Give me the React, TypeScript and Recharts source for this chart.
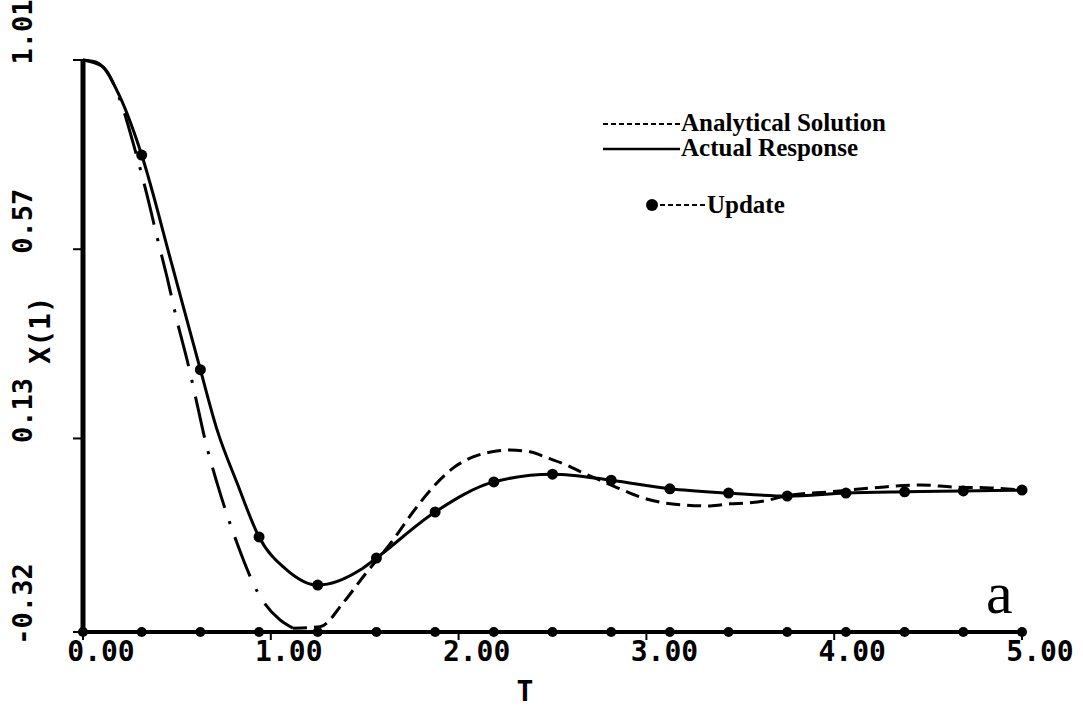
import React from "react";
import { ComposedChart, Line, XAxis, YAxis, Customized } from "recharts";

// time axis T and tick labels
const xTicks = [0, 1, 2, 3, 4, 5];
const yTicks = [-0.32, 0.13, 0.57, 1.01];

const responseT = [0, 0.07, 0.106, 0.197, 0.3125, 0.47, 0.625, 0.714, 0.82, 0.9375, 1.086, 1.25, 1.475, 1.5625, 1.875, 2.1875, 2.5, 2.8125, 3.125, 3.4375, 3.75, 4.0625, 4.375, 4.6875, 5.0];
const responseX = [1.01, 1.005, 0.994, 0.924, 0.789, 0.54, 0.29, 0.15, 0.027, -0.099, -0.176, -0.211, -0.176, -0.148, -0.041, 0.029, 0.047, 0.033, 0.013, 0.003, -0.004, 0.003, 0.006, 0.008, 0.01];

// analytical solution, first dip (dash-dot) and the rest (short dashes)
const dipT = [0, 0.106, 0.197, 0.277, 0.341, 0.394, 0.447, 0.506, 0.554, 0.612, 0.65, 0.714, 0.82, 0.932, 1.049, 1.118];
const dipX = [1.01, 0.994, 0.917, 0.801, 0.696, 0.599, 0.506, 0.394, 0.313, 0.201, 0.127, 0.026, -0.113, -0.229, -0.292, -0.311];
const reboundT = [1.118, 1.262, 1.384, 1.491, 1.651, 1.757, 1.864, 1.97, 2.077, 2.178, 2.274, 2.38, 2.471, 2.577, 2.662, 2.753, 2.859, 2.966, 3.072, 3.216, 3.339, 3.445, 3.536, 3.632, 3.738, 3.978, 4.207, 4.457, 4.633, 4.83, 5.0];
const reboundX = [-0.311, -0.308, -0.253, -0.192, -0.106, -0.041, 0.017, 0.061, 0.087, 0.099, 0.103, 0.099, 0.085, 0.068, 0.05, 0.033, 0.013, -0.006, -0.018, -0.025, -0.027, -0.022, -0.02, -0.015, -0.004, 0.006, 0.015, 0.022, 0.017, 0.015, 0.01];

// update instants: markers on the response and on the base line
const updateT = [0.3125, 0.625, 0.9375, 1.25, 1.5625, 1.875, 2.1875, 2.5, 2.8125, 3.125, 3.4375, 3.75, 4.0625, 4.375, 4.6875, 5.0];
const updateX = [0.789, 0.29, -0.099, -0.211, -0.148, -0.041, 0.029, 0.047, 0.033, 0.013, 0.003, -0.004, 0.003, 0.006, 0.008, 0.01];
const baseT = [0, 0.3125, 0.625, 0.9375, 1.25, 1.5625, 1.875, 2.1875, 2.5, 2.8125, 3.125, 3.4375, 3.75, 4.0625, 4.375, 4.6875, 5.0];
const baseX = [-0.32, -0.32, -0.32, -0.32, -0.32, -0.32, -0.32, -0.32, -0.32, -0.32, -0.32, -0.32, -0.32, -0.32, -0.32, -0.32, -0.32];

const zip = (t: number[], v: number[]) => t.map((x, i) => ({ t: x, v: v[i] }));

const response = zip(responseT, responseX);
const dip = zip(dipT, dipX);
const rebound = zip(reboundT, reboundX);
const updates = zip(updateT, updateX);
const base = zip(baseT, baseX);

const tickFont = "'DejaVu Sans Mono', monospace";
const serif = "'Liberation Serif', 'Times New Roman', serif";

const blackDot = (r: number) => (p: any) => (
  <circle key={`dot-${p.index}`} cx={p.cx} cy={p.cy} r={r} fill="#000" stroke="none" />
);

const XTick = ({ x, y, payload }: any) => (
  <text x={x + 18} y={y + 19} textAnchor="middle" fontFamily={tickFont} fontWeight="bold" fontSize={28} fill="#000">
    {payload.value.toFixed(2)}
  </text>
);

const YTick = ({ y, payload }: any) => (
  <text
    transform={`translate(22, ${y - 28}) rotate(-90)`}
    textAnchor="middle"
    dominantBaseline="central"
    fontFamily={tickFont}
    fontWeight="bold"
    fontSize={27}
    fill="#000"
  >
    {payload.value.toFixed(2)}
  </text>
);

const Overlay = () => (
  <g>
    <text transform="translate(40, 330) rotate(-90)" textAnchor="middle" dominantBaseline="central" fontFamily={tickFont} fontWeight="bold" fontSize={28}>
      X(1)
    </text>
    <text x={525} y={701} textAnchor="middle" fontFamily={tickFont} fontWeight="bold" fontSize={28}>
      T
    </text>
    <text x={986} y={613} fontFamily={serif} fontSize={60}>
      a
    </text>

    <line x1={603} y1={124} x2={680} y2={124} stroke="#000" strokeWidth={2} strokeDasharray="5 3" />
    <text x={681} y={131} fontFamily={serif} fontWeight="bold" fontSize={25}>
      Analytical Solution
    </text>
    <line x1={603} y1={149} x2={680} y2={149} stroke="#000" strokeWidth={2.5} />
    <text x={681} y={156} fontFamily={serif} fontWeight="bold" fontSize={25}>
      Actual Response
    </text>
    <circle cx={652} cy={205} r={6} fill="#000" />
    <line x1={660} y1={205} x2={705} y2={205} stroke="#000" strokeWidth={2} strokeDasharray="5 3" />
    <text x={707} y={213} fontFamily={serif} fontWeight="bold" fontSize={25}>
      Update
    </text>
  </g>
);

export default function App() {
  return (
    <div style={{ position: "absolute", left: 0, top: 0, background: "#fff" }}>
      <ComposedChart width={1083} height={707} margin={{ top: 60, right: 61, bottom: 0, left: 0 }}>
        <XAxis
          type="number"
          dataKey="t"
          domain={[0, 5]}
          ticks={xTicks}
          height={75}
          axisLine={{ stroke: "#000", strokeWidth: 4 }}
          tickLine={{ stroke: "#000", strokeWidth: 2 }}
          tickSize={8}
          tick={<XTick />}
        />
        <YAxis
          type="number"
          dataKey="v"
          domain={[-0.32, 1.01]}
          ticks={yTicks}
          width={83}
          axisLine={{ stroke: "#000", strokeWidth: 5 }}
          tickLine={{ stroke: "#000", strokeWidth: 2 }}
          tickSize={10}
          tick={<YTick />}
        />
        <Line data={base} dataKey="v" type="linear" stroke="#000" strokeWidth={3} dot={blackDot(5)} isAnimationActive={false} />
        <Line data={dip} dataKey="v" type="monotone" stroke="#000" strokeWidth={3} strokeDasharray="42 14 3 14" dot={false} isAnimationActive={false} />
        <Line data={rebound} dataKey="v" type="monotone" stroke="#000" strokeWidth={3} strokeDasharray="14 7" dot={false} isAnimationActive={false} />
        <Line data={response} dataKey="v" type="monotone" stroke="#000" strokeWidth={3} dot={false} isAnimationActive={false} />
        <Line data={updates} dataKey="v" type="monotone" stroke="none" dot={blackDot(5.5)} isAnimationActive={false} />
        <Customized component={Overlay} />
      </ComposedChart>
    </div>
  );
}
